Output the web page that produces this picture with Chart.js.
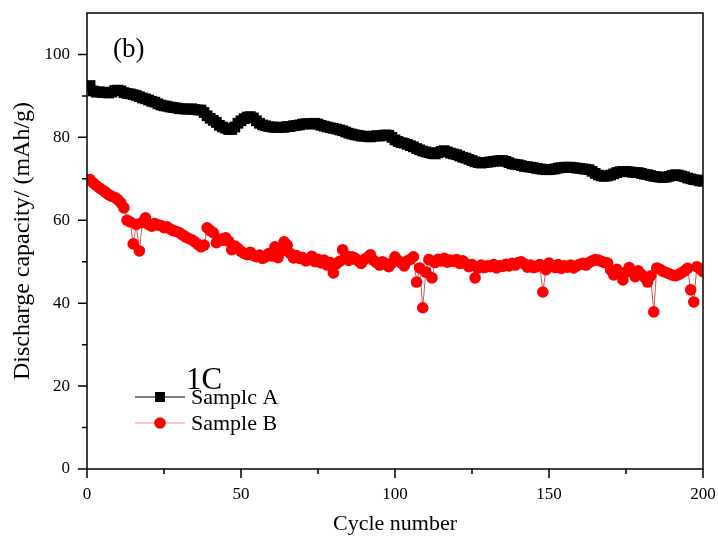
<!DOCTYPE html>
<html>
<head>
<meta charset="utf-8">
<script src="https://cdn.jsdelivr.net/npm/chart.js@4.4.1/dist/chart.umd.min.js"></script>
<style>
  html, body { margin: 0; padding: 0; background: #fff; }
  #wrap { width: 718px; height: 540px; position: relative; }
</style>
</head>
<body>
<div id="wrap"><canvas id="cycleChart"></canvas></div>
<script>
// cycle index 1..200
const cycles = Array.from({ length: 200 }, (_, i) => i + 1);

// Sample A discharge capacity (mAh/g)
const sampleA = [
  92.5, 91.2, 90.9, 91.0, 90.8, 90.9, 90.7, 90.9, 91.3, 91.4,
  91.2, 90.8, 90.6, 90.5, 90.3, 90.1, 89.8, 89.5, 89.3, 89.0,
  88.7, 88.5, 88.1, 87.8, 87.6, 87.5, 87.3, 87.2, 87.1, 86.9,
  86.9, 86.8, 86.8, 86.9, 86.7, 86.6, 86.6, 86.0, 85.2, 84.6,
  84.1, 83.6, 82.9, 82.5, 82.2, 81.9, 81.9, 82.5, 83.4, 84.0,
  84.5, 84.9, 85.0, 84.7, 84.0, 83.4, 83.0, 82.8, 82.6, 82.5,
  82.4, 82.4, 82.5, 82.4, 82.6, 82.6, 82.8, 82.9, 83.0, 83.2,
  83.3, 83.3, 83.2, 83.4, 83.2, 82.9, 82.7, 82.5, 82.3, 82.2,
  82.0, 81.8, 81.6, 81.3, 81.0, 80.8, 80.6, 80.5, 80.3, 80.3,
  80.2, 80.1, 80.3, 80.4, 80.3, 80.5, 80.6, 80.5, 80.0, 79.4,
  79.0, 78.7, 78.6, 78.3, 78.0, 77.7, 77.3, 77.0, 76.7, 76.5,
  76.3, 76.1, 76.0, 76.3, 76.6, 76.8, 76.5, 76.2, 76.0, 75.8,
  75.5, 75.2, 75.0, 74.7, 74.4, 74.1, 73.9, 73.8, 73.9, 74.0,
  74.1, 74.2, 74.3, 74.4, 74.4, 74.2, 73.9, 73.6, 73.5, 73.4,
  73.2, 73.0, 72.9, 72.8, 72.7, 72.5, 72.4, 72.3, 72.2, 72.2,
  72.3, 72.4, 72.6, 72.7, 72.8, 72.8, 72.8, 72.7, 72.6, 72.5,
  72.4, 72.3, 72.2, 71.8, 71.3, 70.9, 70.7, 70.6, 70.7, 70.9,
  71.2, 71.5, 71.7, 71.8, 71.8, 71.7, 71.6, 71.5, 71.5, 71.3,
  71.1, 71.0, 70.8, 70.6, 70.5, 70.4, 70.3, 70.4, 70.6, 70.8,
  71.0, 70.9, 70.7, 70.5, 70.2, 70.0, 69.8, 69.7, 69.5, 69.4
];

// Sample B discharge capacity (mAh/g)
const sampleB = [
  69.8, 69.0, 68.4, 67.8, 67.3, 66.8, 66.2, 65.8, 65.5, 65.0,
  64.2, 63.0, 60.0, 59.6, 54.3, 59.0, 52.6, 59.5, 60.6, 59.0,
  58.6, 59.2, 58.9, 58.7, 58.2, 58.4, 57.9, 57.5, 57.3, 57.0,
  56.5, 56.0, 55.6, 55.3, 54.8, 54.2, 53.6, 54.0, 58.2, 57.5,
  57.0, 54.6, 55.5, 55.2, 55.8, 54.9, 52.9, 53.8, 53.2, 52.5,
  52.0, 51.7, 52.3, 51.5, 51.2, 51.6, 50.8, 51.2, 52.0, 51.4,
  53.6, 51.0, 52.5, 54.8, 54.0, 52.0, 50.9, 51.5, 50.8, 51.0,
  50.2, 50.5, 51.3, 50.0, 50.6, 49.7, 50.4, 49.2, 49.8, 47.3,
  49.5, 50.1, 52.9, 51.5, 50.3, 51.2, 50.9, 50.2, 49.6, 50.5,
  51.0, 51.7, 50.4, 49.8, 49.2, 50.0, 49.5, 48.8, 49.7, 51.2,
  50.3, 49.7, 49.0, 50.2, 50.6, 51.2, 45.1, 48.5, 38.9, 47.5,
  50.5, 46.1, 49.8, 50.6, 50.2, 50.8, 49.9, 50.4, 50.1, 50.5,
  49.6, 50.2, 49.5, 48.8, 49.3, 46.1, 48.5, 49.2, 48.6, 49.0,
  48.8, 49.3, 48.5, 49.0, 48.9, 49.4, 49.0, 49.6, 49.2, 49.8,
  50.0, 49.5, 48.7, 49.2, 48.6, 48.8, 49.3, 42.7, 48.1, 49.7,
  49.1, 48.6, 49.3, 48.4, 49.0, 48.7, 49.2, 48.5, 49.0, 49.4,
  49.6, 49.2, 49.8, 50.2, 50.5, 50.4, 50.1, 49.8, 49.7, 48.0,
  46.8, 48.2, 47.3, 45.6, 47.5, 48.6, 47.6, 46.4, 47.8, 46.9,
  46.3, 45.1, 46.6, 37.9, 48.5, 48.2, 47.7, 47.4, 47.1, 46.8,
  46.6, 46.9, 47.3, 47.8, 48.4, 43.2, 40.3, 48.8, 48.3, 47.6
];

const xMajorTicks = [0, 50, 100, 150, 200];
const xMinorTicks = [25, 75, 125, 175];
const yMajorTicks = [0, 20, 40, 60, 80, 100];
const yMinorTicks = [10, 30, 50, 70, 90];
const seriesNames = ["Samplc A", "Sample B"];

const FONT = "'Liberation Serif', 'Times New Roman', serif";

// frame, outward ticks, inside legend and the (b) / 1C labels
const decorPlugin = {
    id: "decor",
    afterDraw(chart) {
        const ctx = chart.ctx;
        const area = chart.chartArea;
        const xs = chart.scales.x;
        const ys = chart.scales.y;
        ctx.save();
        ctx.strokeStyle = "#000";
        ctx.lineWidth = 1.5;
        ctx.strokeRect(area.left, area.top, area.right - area.left, area.bottom - area.top);

        ctx.beginPath();
        xMajorTicks.forEach(v => {
            const px = xs.getPixelForValue(v);
            ctx.moveTo(px, area.bottom); ctx.lineTo(px, area.bottom + 9);
        });
        xMinorTicks.forEach(v => {
            const px = xs.getPixelForValue(v);
            ctx.moveTo(px, area.bottom); ctx.lineTo(px, area.bottom + 5);
        });
        yMajorTicks.forEach(v => {
            const py = ys.getPixelForValue(v);
            ctx.moveTo(area.left, py); ctx.lineTo(area.left - 9, py);
        });
        yMinorTicks.forEach(v => {
            const py = ys.getPixelForValue(v);
            ctx.moveTo(area.left, py); ctx.lineTo(area.left - 5, py);
        });
        ctx.stroke();

        // legend
        ctx.font = "22px " + FONT;
        ctx.textBaseline = "middle";
        const legendRows = [
            { y: 397, line: "#000", fill: "#000", style: "rect" },
            { y: 423, line: "#f09090", fill: "#ff0000", style: "circle" }
        ];
        legendRows.forEach((row, i) => {
            ctx.strokeStyle = row.line;
            ctx.lineWidth = 1.2;
            ctx.beginPath();
            ctx.moveTo(135, row.y); ctx.lineTo(185, row.y);
            ctx.stroke();
            ctx.fillStyle = row.fill;
            if (row.style === "rect") {
                ctx.fillRect(155, row.y - 5, 10, 10);
            } else {
                ctx.beginPath();
                ctx.arc(160, row.y, 5.8, 0, Math.PI * 2);
                ctx.fill();
            }
            ctx.fillStyle = "#000";
            ctx.textAlign = "left";
            ctx.fillText(seriesNames[i], 191, row.y + 1);
        });

        ctx.textAlign = "left";
        ctx.font = "27px " + FONT;
        ctx.fillText("(b)", 113, 50);
        ctx.font = "31px " + FONT;
        ctx.fillText("1C", 186, 381);
        ctx.restore();
    }
};

document.addEventListener("DOMContentLoaded", () => {
    const ctx = document.getElementById("cycleChart").getContext("2d");
    new Chart(ctx, {
        type: "line",
        data: {
            labels: cycles,
            datasets: [
                {
                    label: seriesNames[0],
                    data: sampleA,
                    borderColor: "#000",
                    backgroundColor: "#000",
                    borderWidth: 1,
                    pointStyle: "rect",
                    pointRadius: 7.6,
                    pointBorderWidth: 0,
                    tension: 0
                },
                {
                    label: seriesNames[1],
                    data: sampleB,
                    borderColor: "rgba(200,60,60,0.85)",
                    backgroundColor: "#ff0000",
                    borderWidth: 1,
                    pointStyle: "circle",
                    pointRadius: 5.8,
                    pointBorderWidth: 0,
                    tension: 0
                }
            ]
        },
        options: {
            responsive: true,
            maintainAspectRatio: false,
            animation: false,
            layout: { padding: { top: 13, right: 15, left: 0, bottom: 0 } },
            plugins: { legend: { display: false }, tooltip: { enabled: false } },
            scales: {
                x: {
                    type: "linear",
                    min: 0, max: 200,
                    grid: { display: false },
                    border: { display: false },
                    afterBuildTicks: s => { s.ticks = xMajorTicks.map(v => ({ value: v })); },
                    afterFit: s => { s.height = 71; s.paddingLeft = 0; s.paddingRight = 0; },
                    ticks: { color: "#000", font: { family: FONT, size: 17 }, padding: 7, maxRotation: 0 },
                    title: { display: true, text: "Cycle number", color: "#000", font: { family: FONT, size: 22 }, padding: { top: 0, bottom: 3 } }
                },
                y: {
                    min: 0, max: 110,
                    grid: { display: false },
                    border: { display: false },
                    afterBuildTicks: s => { s.ticks = yMajorTicks.map(v => ({ value: v })); },
                    afterFit: s => { s.width = 87; s.paddingTop = 0; s.paddingBottom = 0; },
                    ticks: { color: "#000", font: { family: FONT, size: 17 }, padding: 9 },
                    title: { display: true, text: "Discharge capacity/ (mAh/g)", color: "#000", font: { family: FONT, size: 24 }, padding: { top: 8, bottom: 0 } }
                }
            }
        },
        plugins: [decorPlugin]
    });
});
</script>
</body>
</html>
